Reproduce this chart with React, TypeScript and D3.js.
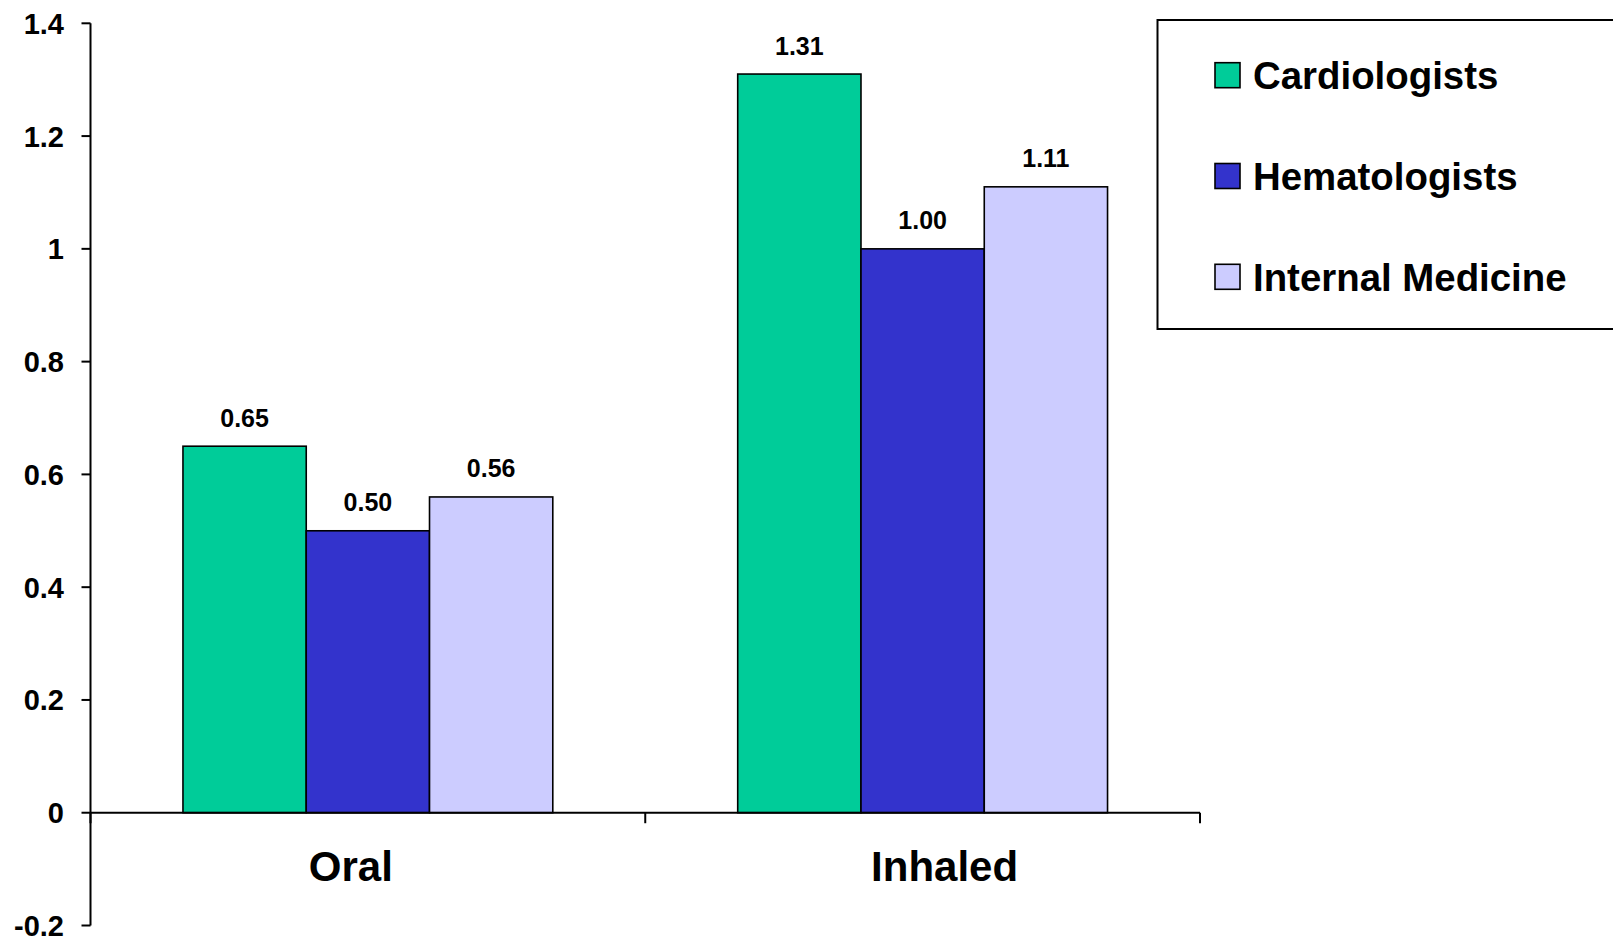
import React from "react";
import * as d3 from "d3";

const categories = ["Oral", "Inhaled"];
const seriesNames = ["Cardiologists", "Hematologists", "Internal Medicine"];
const cardiologists = [0.65, 1.31];
const hematologists = [0.5, 1.0];
const internalMedicine = [0.56, 1.11];
const yTicks = [-0.2, 0, 0.2, 0.4, 0.6, 0.8, 1, 1.2, 1.4];
const seriesColors = ["#00CC99", "#3333CC", "#CCCCFF"];

const W = 1613;
const H = 941;
const FONT = "'Liberation Sans', Arial, Helvetica, sans-serif";

export default function App() {
  const plotLeft = 90.5;
  const plotRight = 1200;
  const y = d3.scaleLinear().domain([-0.2, 1.4]).range([925.5, 23.3]);
  const x0 = d3.scaleBand<string>().domain(categories).range([plotLeft, plotRight]).padding(0);
  const bw = x0.bandwidth();
  // gap between groups equals 150% of a bar width
  const barW = bw / (seriesNames.length + 1.5);
  const groupPad = (bw - barW * seriesNames.length) / 2;
  const x1 = d3
    .scaleBand<string>()
    .domain(seriesNames)
    .range([groupPad, bw - groupPad])
    .padding(0);

  const values = [cardiologists, hematologists, internalMedicine];
  const zeroY = y(0);
  // category label nudges along the axis
  const labelShift = [-17, 22];

  return (
    <svg
      width={W}
      height={H}
      style={{ position: "absolute", left: 0, top: 0, background: "#fff" }}
      fontFamily={FONT}
    >
      <rect x={0} y={0} width={W} height={H} fill="#fff" />

      {/* bars */}
      {categories.map((c, ci) =>
        seriesNames.map((s, si) => {
          const v = values[si][ci];
          const bx = (x0(c) as number) + (x1(s) as number);
          const top = y(v);
          return (
            <g key={c + s}>
              <rect
                x={bx}
                y={top}
                width={x1.bandwidth()}
                height={zeroY - top}
                fill={seriesColors[si]}
                stroke="#000"
                strokeWidth={1.6}
              />
              <text
                x={bx + x1.bandwidth() / 2}
                y={top - 19.5}
                textAnchor="middle"
                fontSize={25}
                fontWeight="bold"
                fill="#000"
              >
                {v.toFixed(2)}
              </text>
            </g>
          );
        })
      )}

      {/* y axis */}
      <line x1={plotLeft} x2={plotLeft} y1={y(1.4)} y2={y(-0.2)} stroke="#000" strokeWidth={2} />
      {yTicks.map((t) => (
        <g key={t}>
          <line x1={plotLeft - 9} x2={plotLeft} y1={y(t)} y2={y(t)} stroke="#000" strokeWidth={2} />
          <text
            x={64}
            y={y(t) + 10.5}
            textAnchor="end"
            fontSize={29}
            fontWeight="bold"
            fill="#000"
          >
            {String(t)}
          </text>
        </g>
      ))}

      {/* x axis at zero */}
      <line x1={plotLeft} x2={plotRight} y1={zeroY} y2={zeroY} stroke="#000" strokeWidth={2} />
      {[plotLeft, ...categories.map((c) => (x0(c) as number) + bw)].map((tx, i) => (
        <line key={i} x1={tx} x2={tx} y1={zeroY} y2={zeroY + 10.5} stroke="#000" strokeWidth={2} />
      ))}
      {categories.map((c, ci) => (
        <text
          key={c}
          x={(x0(c) as number) + bw / 2 + labelShift[ci]}
          y={881}
          textAnchor="middle"
          fontSize={42}
          fontWeight="bold"
          fill="#000"
        >
          {c}
        </text>
      ))}

      {/* legend */}
      <rect x={1157.5} y={20} width={500} height={309} fill="#fff" stroke="#000" strokeWidth={2} />
      {seriesNames.map((s, si) => {
        const ly = 62.7 + si * 100.8;
        return (
          <g key={s}>
            <rect x={1215} y={ly} width={25} height={25} fill={seriesColors[si]} stroke="#000" strokeWidth={1.6} />
            <text x={1253} y={ly + 26.6} fontSize={38.4} fontWeight="bold" fill="#000">
              {s}
            </text>
          </g>
        );
      })}
    </svg>
  );
}
